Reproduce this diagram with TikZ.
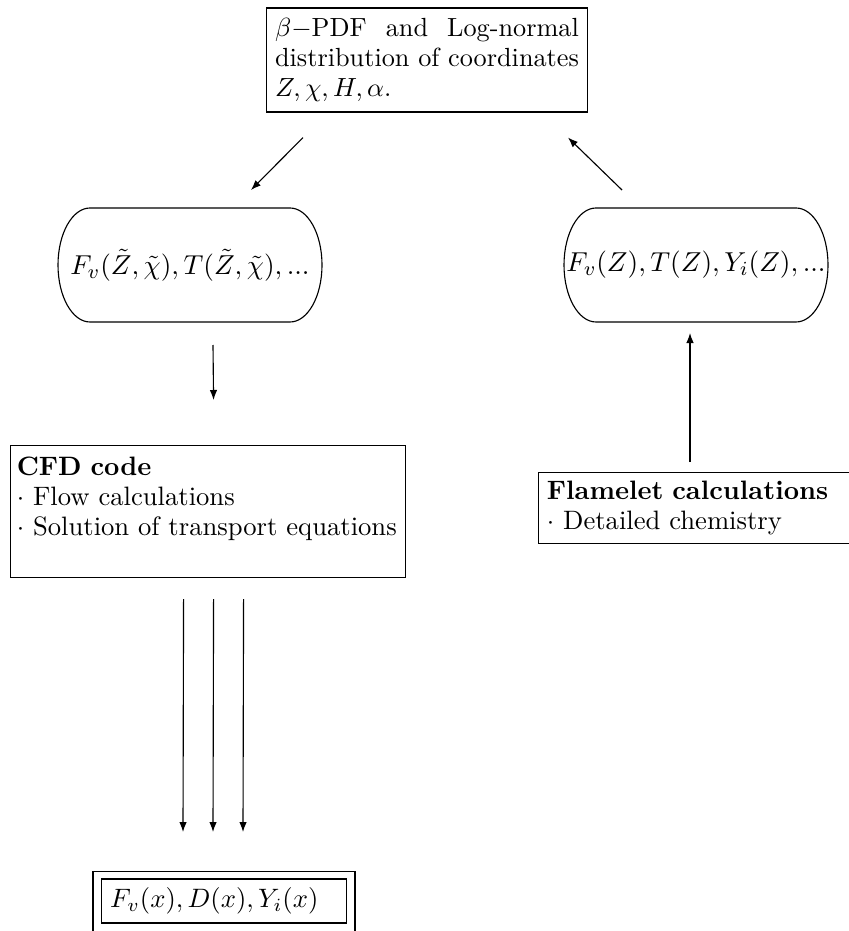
\RequirePackage{fix-cm}
\documentclass[tikz,border=0pt]{standalone}
\usetikzlibrary{arrows.meta}
\newlength\dlen
\begin{document}
\fontsize{10.5}{12}\selectfont
\settowidth\dlen{distribution of coordinates}%
\begin{tikzpicture}[x=0.4pt,y=-0.4pt, line width=0.45pt,
  arr/.style={-{Latex[length=4pt,width=3pt]}},
  fnt/.style={font=\fontsize{10.65}{12}\selectfont},
  box/.style={draw, inner sep=3.33pt, align=left, fnt},
  stad/.style={minimum width=105.6pt, minimum height=45.6pt, inner sep=0pt, outer sep=0pt,
    font=\fontsize{10.95}{13}\selectfont}]
\useasboundingbox (0,0) rectangle (848,931);
\node[draw, text width=\dlen, minimum width=128pt, minimum height=41.6pt, align=justify,
  font=\fontsize{10.5}{12}\selectfont] (top) at (427,60)
  {$\beta-$PDF and Log-normal\linebreak distribution of coordinates\\ $Z,\chi,H,\alpha.$};
\node[stad] (L) at (190,265) {$F_v(\tilde{Z},\tilde{\chi}),T(\tilde{Z},\tilde{\chi}),...$};
\node[stad] (R) at (696,265) {$F_v(Z),T(Z),Y_i(Z),...$};
\foreach \n in {L,R}
  \draw ([xshift=12.8pt]\n.north west) -- ([xshift=-12.8pt]\n.north east)
    arc[start angle=90,end angle=-90,x radius=12.8pt,y radius=22.8pt]
    -- ([xshift=12.8pt]\n.south west)
    arc[start angle=270,end angle=90,x radius=12.8pt,y radius=22.8pt] -- cycle;
\node[box, text width=153pt, inner xsep=2.5pt, minimum height=52.8pt, anchor=north west] (cfd) at (10,445)
  {\textbf{CFD code}\\ $\cdot$ Flow calculations\\ $\cdot$ Solution of transport equations\\ \mbox{}};
\node[box, text width=130pt, minimum height=28.4pt, anchor=north west] (fl) at (538,472)
  {\textbf{Flamelet calculations}\\ $\cdot$ Detailed chemistry};
\node[draw, minimum width=104.8pt, minimum height=40pt, anchor=north, inner sep=0pt] (outb) at (224,871) {};
\node[box, text width=91pt, minimum height=17.6pt] (res) at (224,901) {$F_v(x),D(x),Y_i(x)$};
\draw[arr] ([shift={(-124,25)}]top.south) -- ([shift={(61,-18)}]L.north);
\draw[arr] ([shift={(-74,-18)}]R.north) -- ([shift={(141,25)}]top.south);
\draw[arr] ([shift={(23,23)}]L.south) -- ([shift={(5.5,-45)}]cfd.north);
\draw[arr] ([shift={(152,-10)}]fl.north west) -- ([shift={(-6,11)}]R.south);
\foreach \dx/\ex in {-24.5/-41, 5.5/-11, 35.5/19}
  \draw[arr] ([shift={(\dx,21)}]cfd.south) -- ([shift={(\ex,-39)}]outb.north);
\end{tikzpicture}
\end{document}
